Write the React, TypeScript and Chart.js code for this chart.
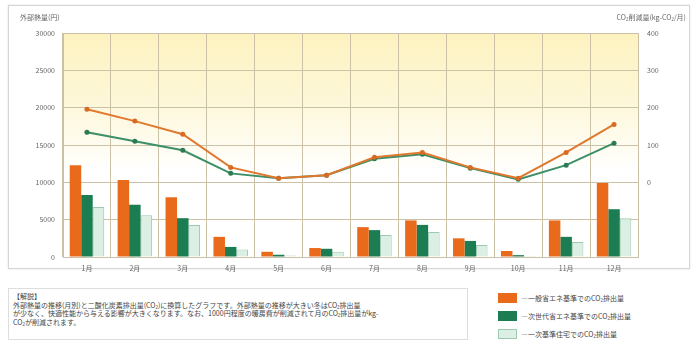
import React, { useEffect, useRef } from "react";
import { Chart, registerables } from "chart.js";

Chart.register(...registerables);

const months = ["1月", "2月", "3月", "4月", "5月", "6月", "7月", "8月", "9月", "10月", "11月", "12月"];
const barGeneral = [12300, 10300, 8000, 2700, 700, 1200, 4000, 4900, 2500, 800, 4900, 9900];
const barNextGen = [8300, 7000, 5200, 1350, 300, 1100, 3600, 4300, 2150, 250, 2700, 6400];
const barHouse = [6700, 5600, 4300, 1000, 200, 700, 2950, 3350, 1600, 120, 2000, 5200];
const lineOrange = [196, 164, 129, 40, 11, 19, 67, 80, 40, 11, 80, 155];
const lineGreen = [134, 110, 86, 24, 11, 19, 63, 75, 38, 8, 46, 105];
const leftTicks = [0, 5000, 10000, 15000, 20000, 25000, 30000];
const rightTicks = [0, 100, 200, 300, 400];
const legendLabels = [
  "一般省エネ基準でのCO₂排出量",
  "次世代省エネ基準でのCO₂排出量",
  "一次基準住宅でのCO₂排出量",
];

const FONT = "'Noto Sans CJK JP', 'Noto Sans', sans-serif";
const CANVAS_H = 276;
const GRID = "#cbc1a6";

const bgPlugin = {
  id: "bgGrad",
  beforeDraw(chart: any) {
    const { ctx, chartArea } = chart;
    if (!chartArea) return;
    const g = ctx.createLinearGradient(0, chartArea.top, 0, chartArea.bottom);
    g.addColorStop(0, "#fdf2bf");
    g.addColorStop(0.3, "#fdf7d8");
    g.addColorStop(0.62, "#ffffff");
    g.addColorStop(1, "#ffffff");
    ctx.save();
    ctx.fillStyle = g;
    ctx.fillRect(chartArea.left, chartArea.top, chartArea.right - chartArea.left, chartArea.bottom - chartArea.top);
    ctx.restore();
  },
};

function ChartCanvas() {
  const ref = useRef<HTMLCanvasElement | null>(null);
  useEffect(() => {
    if (!ref.current) return;
    const chart = new Chart(ref.current, {
      type: "bar",
      data: {
        labels: months,
        datasets: [
          {
            type: "line",
            label: "orange line",
            data: lineOrange,
            yAxisID: "y1",
            borderColor: "#e0782e",
            backgroundColor: "#d96a22",
            borderWidth: 2,
            pointRadius: 2.5,
            pointBorderWidth: 0,
            tension: 0,
            order: 0,
          } as any,
          {
            type: "line",
            label: "green line",
            data: lineGreen,
            yAxisID: "y1",
            borderColor: "#3c8f66",
            backgroundColor: "#2b7a52",
            borderWidth: 2,
            pointRadius: 2.5,
            pointBorderWidth: 0,
            tension: 0,
            order: 1,
          } as any,
          {
            label: legendLabels[0],
            data: barGeneral,
            yAxisID: "y",
            backgroundColor: "#ea6a1c",
            borderWidth: 0,
            order: 2,
          },
          {
            label: legendLabels[1],
            data: barNextGen,
            yAxisID: "y",
            backgroundColor: "#1d7d52",
            borderWidth: 0,
            order: 3,
          },
          {
            label: legendLabels[2],
            data: barHouse,
            yAxisID: "y",
            backgroundColor: "#dcefe4",
            borderColor: "#9ccab0",
            borderWidth: 1,
            order: 4,
          },
        ],
      },
      options: {
        responsive: false,
        animation: false,
        maintainAspectRatio: false,
        layout: { padding: { top: 33, left: 0, right: 0, bottom: 0 } },
        datasets: { bar: { categoryPercentage: 0.72, barPercentage: 1 } } as any,
        plugins: { legend: { display: false }, tooltip: { enabled: false } },
        scales: {
          x: {
            grid: { color: GRID, lineWidth: 1, offset: true, drawTicks: false },
            border: { color: GRID },
            ticks: { color: "#666", font: { size: 7, family: FONT }, padding: 7 },
            afterFit(s: any) {
              s.height = CANVAS_H - 257;
            },
          } as any,
          y: {
            position: "left",
            min: 0,
            max: 30000,
            afterBuildTicks(s: any) {
              s.ticks = leftTicks.map((v) => ({ value: v }));
            },
            grid: { color: GRID, lineWidth: 1, drawTicks: false },
            border: { color: GRID },
            ticks: {
              color: "#666",
              font: { size: 7, family: FONT },
              padding: 8,
              callback: (v: any) => String(v),
            },
            afterFit(s: any) {
              s.width = 63;
            },
          } as any,
          y1: {
            position: "right",
            min: -200,
            max: 400,
            afterBuildTicks(s: any) {
              s.ticks = rightTicks.map((v) => ({ value: v }));
            },
            grid: { drawOnChartArea: false, drawTicks: false },
            border: { display: false },
            ticks: {
              color: "#666",
              font: { size: 7, family: FONT },
              padding: 9,
              callback: (v: any) => String(v),
            },
            afterFit(s: any) {
              s.width = 696 - 638;
            },
          } as any,
        },
      },
      plugins: [bgPlugin],
    });
    return () => chart.destroy();
  }, []);
  return <canvas ref={ref} width={696} height={CANVAS_H} style={{ position: "absolute", left: 0, top: 0 }} />;
}

const legendColors = [
  { bg: "#ea6a1c", border: "#ea6a1c" },
  { bg: "#1d7d52", border: "#1d7d52" },
  { bg: "#dcefe4", border: "#9ccab0" },
];

export default function App() {
  return (
    <div
      style={{
        position: "fixed",
        left: 0,
        top: 0,
        width: 696,
        height: 344,
        background: "#fff",
        fontFamily: FONT,
        overflow: "hidden",
      }}
    >
      <div
        style={{
          position: "absolute",
          left: 8,
          top: 5,
          width: 680,
          height: 262,
          border: "1px solid #d6d6d6",
          boxShadow: "0 0 2px #e0e0e0",
        }}
      />
      <ChartCanvas />
      <div style={{ position: "absolute", left: 20, top: 12, fontSize: 7, color: "#666" }}>外部熱量(円)</div>
      <div style={{ position: "absolute", right: 10, top: 12, fontSize: 7, color: "#666" }}>
        CO₂削減量(kg-CO₂/月)
      </div>
      <div
        style={{
          position: "absolute",
          left: 8,
          top: 288,
          width: 460,
          height: 52,
          border: "1px solid #dedede",
          fontSize: 7,
          lineHeight: "8.5px",
          color: "#444",
          padding: "3px 4px",
          boxSizing: "border-box",
          whiteSpace: "nowrap",
          overflow: "hidden",
        }}
      >
        <div>【解説】</div>
        <div>外部熱量の推移(月別)と二酸化炭素排出量(CO₂)に換算したグラフです。外部熱量の推移が大きい冬はCO₂排出量</div>
        <div>が少なく、快適性能から与える影響が大きくなります。なお、1000円程度の暖房費が削減されて月のCO₂排出量がkg-</div>
        <div>CO₂が削減されます。</div>
      </div>
      {legendLabels.map((t, i) => (
        <div
          key={t}
          style={{
            position: "absolute",
            left: 498,
            top: 293 + i * 18,
            display: "flex",
            alignItems: "center",
            fontSize: 7,
            color: "#444",
          }}
        >
          <span
            style={{
              display: "inline-block",
              width: 19,
              height: 10,
              background: legendColors[i].bg,
              border: `1px solid ${legendColors[i].border}`,
              boxSizing: "border-box",
              marginRight: 4,
            }}
          />
          <span>{"―" + t}</span>
        </div>
      ))}
    </div>
  );
}
